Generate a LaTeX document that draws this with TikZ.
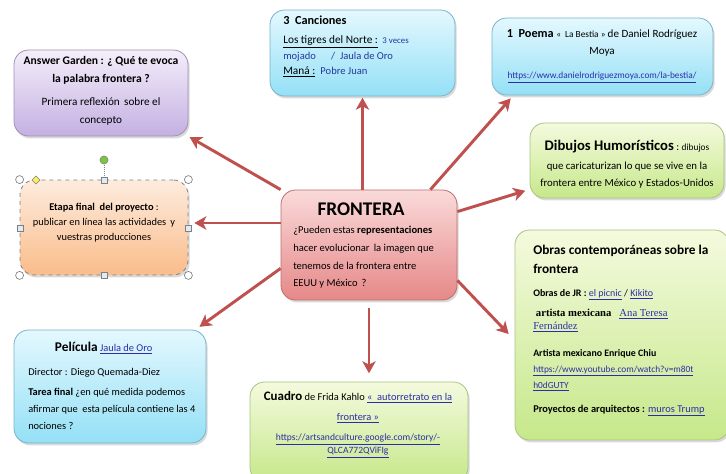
\documentclass[tikz,border=0pt]{standalone}
\usepackage{fontspec}
\setmainfont{Carlito}
\newfontfamily\serifbit{Liberation Serif}
\usetikzlibrary{arrows.meta,shadows,fit}

\definecolor{arrowred}{RGB}{192,80,77}
\definecolor{linkblue}{RGB}{45,45,170}
\definecolor{songblue}{RGB}{35,55,160}
\newcommand{\lnk}[1]{\textcolor{linkblue}{\underline{#1}}}
\newcommand{\fs}[2]{\fontsize{#1}{#2}\selectfont}

\begin{document}
\begin{tikzpicture}[x=0.75pt,y=0.75pt,yscale=-1,xscale=1,
  box/.style={rounded corners=11pt,inner sep=0pt,line width=0.6pt,
    drop shadow={opacity=0.3,shadow xshift=1.2pt,shadow yshift=-1.8pt}},
  lilac/.style={box,draw={rgb,255:red,160;green,145;blue,180},top color={rgb,255:red,244;green,238;blue,250},bottom color={rgb,255:red,196;green,176;blue,226}},
  sky/.style={box,draw={rgb,255:red,120;green,180;blue,200},top color={rgb,255:red,228;green,248;blue,254},bottom color={rgb,255:red,148;green,224;blue,246}},
  lime/.style={box,draw={rgb,255:red,170;green,195;blue,130},top color={rgb,255:red,244;green,250;blue,222},bottom color={rgb,255:red,198;green,232;blue,138}},
  peach/.style={box,draw={rgb,255:red,130;green,130;blue,130},dashed,top color={rgb,255:red,253;green,236;blue,222},bottom color={rgb,255:red,250;green,188;blue,138}},
  rose/.style={box,draw={rgb,255:red,190;green,110;blue,110},top color={rgb,255:red,250;green,218;blue,218},bottom color={rgb,255:red,230;green,136;blue,136}},
  txt/.style={inner sep=0.75pt,font=\fs{7.3}{13.5}},
  spoke/.style={draw=arrowred,line width=2.2pt,-{Stealth[length=9pt,width=10pt,inset=2.5pt]},shorten >=1pt},
  handle/.style={draw={rgb,255:red,128;green,128;blue,128},fill=white,line width=0.5pt}
]
\useasboundingbox (0,0) rectangle (726,474);

%Rounded Rect [Answer Garden]
\node[lilac,fit={(14,50) (188,136)}] (ag) {};
%Rounded Rect [3 Canciones]
\node[sky,fit={(270,10) (455,96)}] (canc) {};
%Rounded Rect [1 Poema]
\node[sky,fit={(492,18) (713,95)}] (poema) {};
%Rounded Rect [Dibujos]
\node[lime,fit={(530,123) (724,198)}] (dib) {};
%Rounded Rect [Etapa final]
\node[peach,fit={(20,180) (188,275)}] (etapa) {};
%Rounded Rect [FRONTERA]
\node[rose,fit={(281,190) (457,300)}] (front) {};
%Rounded Rect [Obras]
\node[lime,fit={(515,230) (729,440)}] (obras) {};
%Rounded Rect [Pelicula]
\node[sky,fit={(14,330) (206,443)}] (peli) {};
%Rounded Rect [Cuadro]
\node[lime,fit={(250,382) (468,482)}] (cuadro) {};

%Selection handles of the Etapa box
\draw[handle,densely dotted] (etapa.north) -- (104,164) ;
\draw[handle,fill={rgb,255:red,120;green,200;blue,60}] (104,160) circle (4) ;
\draw[handle] (etapa.north west) circle (4) ;
\draw[handle] (etapa.north east) circle (4) ;
\draw[handle] (etapa.south west) circle (4) ;
\draw[handle] (etapa.south east) circle (4) ;
\draw[handle,fill={rgb,255:red,225;green,235;blue,245}] (101,177) rectangle (107,183) ;
\draw[handle,fill={rgb,255:red,225;green,235;blue,245}] (101,272) rectangle (107,278) ;
\draw[handle,fill={rgb,255:red,225;green,235;blue,245}] (17,225) rectangle (23,231) ;
\draw[handle,fill={rgb,255:red,225;green,235;blue,245}] (185,225) rectangle (191,231) ;
\draw[handle,fill={rgb,255:red,250;green,240;blue,90}] (36,176) -- (40,180) -- (36,184) -- (32,180) -- cycle ;

%Arrows
\draw[spoke] (front.north west) -- (ag.south east) ;
\draw[spoke] (canc.south |- front.north) -- (canc.south) ;
\draw[spoke] ([shift={(-27,0)}]front.north east) -- ([shift={(20,2)}]poema.south west) ;
\draw[spoke] ([shift={(0,22)}]front.north east) -- ([shift={(-3,-8)}]dib.south west) ;
\draw[spoke] (front.west |- 0,223) -- (193,223) ;
\draw[spoke] ([shift={(0,-32)}]front.south west) -- ([shift={(-8,-2)}]peli.north east) ;
\draw[spoke] ([shift={(0,8)}]front.south) -- ([shift={(0,-7)}]front.south |- cuadro.north) ;
\draw[spoke] ([shift={(0,-20)}]front.south east) -- ([shift={(-5,0)}]obras.west) ;

% Text Node
\node[txt,anchor=north,align=center,font=\fs{8.4}{13.5}] (ag-t) at (ag.north |- 0,55) {{\fs{8.7}{13.5}\bfseries Answer Garden : ¿ Qué te evoca}\\{\fs{8.7}{13.5}\bfseries la palabra frontera ?}\\[4pt]Primera reflexión\, sobre el\\concepto};
% Text Node
\node[txt,anchor=north west,align=left,font=\fs{8.5}{12}] (canc-t) at (282,15) {{\fs{9.2}{11}\bfseries 3\ \ Canciones}\\[2pt]\underline{Los tigres del Norte :}\, {\color{songblue}\fs{6.6}{8}3 veces}\\{\color{songblue}\fs{7.9}{12}mojado \quad\ /\ \ Jaula de Oro}\\[-1pt]\underline{Maná :}\ \ {\color{songblue}\fs{7.9}{12}Pobre Juan}};
% Text Node
\node[txt,anchor=north,align=center,font=\fs{8.3}{13}] (poema-t) at (602,28) {{\fs{9.2}{11}\bfseries 1\ \ Poema} {\fs{7}{8}« \ La Bestia » }de Daniel Rodríguez\\Moya\\[5pt]{\fs{7}{8}\lnk{https://www.danielrodriguezmoya.com/la-bestia/}}};
% Text Node
\node[txt,anchor=north,align=center,font=\fs{8.1}{13.5}] (dib-t) at (627,139) {{\fs{11}{12}\bfseries Dibujos Humorísticos} :\ {\fs{7}{8}dibujos}\\[1pt]que caricaturizan lo que se vive en la\\[-1pt]frontera entre México y Estados-Unidos};
% Text Node
\node[txt,anchor=north,align=center,font=\fs{7.8}{11.2}] (etapa-t) at (104,202) {\textbf{Etapa final\ \ del proyecto} :\\publicar en línea las actividades\, y\\vuestras producciones};
% Text Node
\node[txt,anchor=north,font=\fs{14.5}{16}\bfseries] (front-h) at (361,202) {FRONTERA};
% Text Node
\node[txt,anchor=north west,align=left,font=\fs{7.9}{13.3}] (front-t) at (292,225) {¿Pueden estas \textbf{representaciones}\\hacer evolucionar\, la imagen que\\tenemos de la frontera entre\\EEUU y México\, ?};
% Text Node
\node[txt,anchor=north west,align=left,font=\fs{10}{14.5}\bfseries] (obras-h) at (532,244) {Obras contemporáneas sobre la\\frontera};
% Text Node
\node[txt,anchor=north west,align=left,font=\fs{7.5}{12}] (obras-jr) at (532,288) {\textbf{Obras de JR :} \lnk{el picnic} / \lnk{Kikito}};
% Text Node
\node[txt,anchor=north west,align=left,font=\serifbit\fs{8}{9.5}] (obras-atf) at (532,308) {\ \textbf{artista mexicana}\ \ \ \lnk{Ana Teresa}\\\lnk{Fernández}};
% Text Node
\node[txt,anchor=north west,align=left,font=\fs{7}{12}] (obras-chiu) at (532,348) {{\fs{7.4}{12}\bfseries Artista mexicano Enrique Chiu}\\\lnk{https://www.youtube.com/watch?v=m80t}\\\lnk{h0dGUTY}\\[6pt]{\fs{7.8}{12}\textbf{Proyectos de arquitectos :} \lnk{muros Trump}}};
% Text Node
\node[txt,anchor=north west,align=left,font=\fs{7.8}{12.6}] (peli-t) at (27,341) {\hspace{20pt}{\fs{10}{11}\bfseries Película} \lnk{Jaula de Oro}\\[5pt]Director : Diego Quemada-Diez\\[3pt]\textbf{Tarea final} ¿en qué medida podemos\\afirmar que\ \ esta película contiene las 4\\nociones ?};
% Text Node
\node[txt,anchor=north,align=center,font=\fs{7.8}{12}] (cuadro-t) at (358,390) {{\fs{9.7}{11}\bfseries Cuadro} de Frida Kahlo \lnk{«\ \ autorretrato en la}\\[3pt]\lnk{frontera »}\\[3pt]{\fs{7.2}{12}\lnk{https://artsandculture.google.com/story/-}}\\[-2pt]{\fs{7.2}{12}\lnk{QLCA772QViFIg}}};

\end{tikzpicture}
\end{document}
